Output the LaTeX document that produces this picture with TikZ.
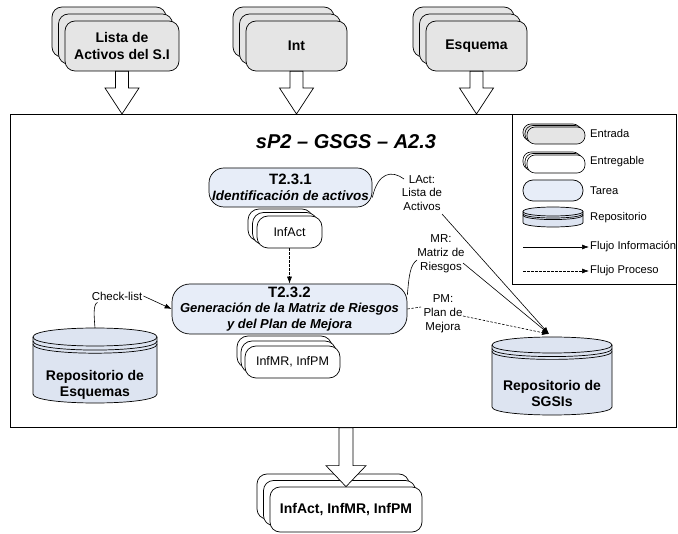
\documentclass[tikz,border=0pt]{standalone}
\usepackage{fontspec}
\setmainfont{Liberation Sans}
\usetikzlibrary{arrows.meta,calc}

\definecolor{inputgray}{RGB}{229,229,229}
\definecolor{taskblue}{RGB}{231,237,248}
\definecolor{repoblue}{RGB}{221,228,241}

\newcommand{\fs}[2]{\fontsize{#1}{#2}\selectfont}

% three stacked rounded boxes; the front one is a named node
% #1 style, #2 name, #3 left, #4 top, #5 right, #6 bottom, #7 x step, #8 y step, #9 text
\newcommand{\stackpile}[9]{%
  \draw[#1] ({#3-2*#7},{#4-2*#8}) rectangle ({#5-2*#7},{#6-2*#8});
  \draw[#1] ({#3-#7},{#4-#8}) rectangle ({#5-#7},{#6-#8});
  \node[#1, minimum width={(#5-#3)*1pt}, minimum height={(#6-#4)*1pt},
        inner sep=0pt, align=center] (#2) at ({(#3+#5)/2},{(#4+#6)/2}) {#9};
}

% repository drum: #1 left, #2 top, #3 right, #4 bottom, #5 ellipse half height, #6 fill
\newcommand{\drumshape}[6]{%
  \filldraw[draw=black, fill=#6, line width=0.7pt]
    (#1,{#2+#5}) -- (#1,{#4-#5})
    .. controls (#1,{#4-#5+4/3*#5}) and (#3,{#4-#5+4/3*#5}) .. (#3,{#4-#5})
    -- (#3,{#2+#5})
    .. controls (#3,{#2+#5-4/3*#5}) and (#1,{#2+#5-4/3*#5}) .. cycle;
  \draw[line width=0.7pt] (#1,{#2+#5})
    .. controls (#1,{#2+#5+4/3*#5}) and (#3,{#2+#5+4/3*#5}) .. (#3,{#2+#5});
  \draw[line width=0.7pt] (#1,{#2+1.45*#5})
    .. controls (#1,{#2+1.45*#5+4/3*#5}) and (#3,{#2+1.45*#5+4/3*#5}) .. (#3,{#2+1.45*#5});
  \draw[line width=0.7pt] (#1,{#2+1.8*#5})
    .. controls (#1,{#2+1.8*#5+4/3*#5}) and (#3,{#2+1.8*#5+4/3*#5}) .. (#3,{#2+1.8*#5});
}

% hollow block arrow: #1 start, #2 tip, #3 shaft half width, #4 head half width, #5 head length
\newcommand{\hollowarrow}[5]{%
  \draw[fill=white, line width=0.7pt] let \p1=(#1), \p2=(#2) in
    ({\x1-#3pt},\y1) -- ({\x1-#3pt},{\y2+#5pt}) -- ({\x1-#4pt},{\y2+#5pt})
    -- (\x1,\y2) -- ({\x1+#4pt},{\y2+#5pt}) -- ({\x1+#3pt},{\y2+#5pt})
    -- ({\x1+#3pt},\y1) -- cycle;
}

\begin{document}
\begin{tikzpicture}[x=1pt,y=-1pt,
  inbox/.style={draw, fill=inputgray, rounded corners=10pt, line width=0.7pt, font=\fs{14}{16.5}\bfseries},
  outbox/.style={draw, fill=white, rounded corners=10pt, line width=0.7pt, font=\fs{14}{16.5}\bfseries},
  deliv/.style={draw, fill=white, rounded corners=11pt, line width=0.7pt, font=\fs{12.5}{15}},
  legin/.style={draw, fill=inputgray, rounded corners=8pt, line width=0.6pt},
  legout/.style={draw, fill=white, rounded corners=8pt, line width=0.6pt},
  task/.style={draw, fill=taskblue, line width=0.7pt, align=center, inner sep=0pt},
  repotext/.style={font=\fs{14}{16.5}\bfseries, align=center, inner sep=0pt},
  lbl/.style={font=\fs{11.5}{13.8}, align=center, inner sep=1pt},
  legtext/.style={font=\fs{11.2}{13.5}, anchor=west, inner sep=1pt},
  flow/.style={-{Latex[length=7pt,width=5pt]}, line width=0.6pt},
  procflow/.style={flow, dash pattern=on 2.5pt off 1.5pt},
  note/.style={line width=0.6pt}
]
\useasboundingbox (0,0) rectangle (678,534);

% activity frame and legend panel
\node[draw, fill=white, line width=0.8pt, minimum width=666pt, minimum height=313pt,
      inner sep=0pt, anchor=north west] (frame) at (10,114) {};
\node[draw, fill=white, line width=0.8pt, minimum width=164pt, minimum height=170pt,
      inner sep=0pt, anchor=north east] (legend) at (frame.north east) {};

% inputs
\stackpile{inbox}{lista}{65}{21}{179}{71}{6.5}{7}{Lista de\\Activos del S.I}
\stackpile{inbox}{int}{246}{21}{347}{71}{6.5}{7}{Int}
\stackpile{inbox}{esq}{426}{21}{527}{71}{6.5}{7}{Esquema}
\hollowarrow{lista.south}{lista.south |- frame.north}{6.5}{17}{26}
\hollowarrow{int.south}{int.south |- frame.north}{6.5}{17}{26}
\hollowarrow{esq.south}{esq.south |- frame.north}{6.5}{17}{26}

% title
\node[font=\fs{20}{24}\bfseries\itshape] (title) at (346,142) {sP2 – GSGS – A2.3};

% tasks
\node[task, rounded corners=15pt, minimum width=163pt, minimum height=39pt,
      font=\fs{13.5}{15.5}\bfseries\itshape] (t231) at (290.5,187.5)
      {{\fs{15}{16}\upshape T2.3.1}\\Identificación de activos};
\node[task, rounded corners=18pt, minimum width=235pt, minimum height=50pt,
      font=\fs{13}{15.5}\bfseries\itshape] (t232) at (289.5,309)
      {{\fs{15}{16}\upshape T2.3.2}\\Generación de la Matriz de Riesgos\\y del Plan de Mejora};

% deliverables
\stackpile{deliv}{infact}{257}{216}{322}{248}{4.5}{3.5}{InfAct}
\stackpile{deliv}{infmr}{245}{346}{340}{378}{4}{5}{InfMR, InfPM}
\draw[procflow] (infact.south) -- (t232.north);

% repositories
\drumshape{33}{328}{157}{403}{9}{repoblue}
\node[repotext] (repoEsq) at (95,385) {Repositorio de\\Esquemas};
\coordinate (esqTop) at (95,328);
\drumshape{492}{337}{612}{415}{8}{repoblue}
\node[repotext] (repoSGSI) at (552,393.5) {Repositorio de\\SGSIs};
\coordinate (sgsiTop) at (549,334);

% check-list from the schema repository
\node[lbl] (chk) at (117,296) {Check-list};
\draw[note] ([xshift=7pt,yshift=-1pt]chk.south west) .. controls (93,304) and (94,316) .. (esqTop);
\draw[flow] (chk.east) -- (t232.west);

% LAct
\node[lbl] (lact) at (422,193) {LAct:\\Lista de\\Activos};
\coordinate (lactIn) at (404,179);
\coordinate (lactOut) at (442,214);
\draw[note] ([yshift=-10pt]t231.east) .. controls (378,172) and (392,170) .. (lactIn);
\draw[flow] (lactOut) -- (sgsiTop);

% MR
\node[lbl] (mr) at (441,253.5) {MR:\\Matriz de\\Riesgos};
\coordinate (mrIn) at (417,260);
\coordinate (mrOut) at (463,263);
\draw[note] ([yshift=14pt]t232.east) .. controls (409,276) and (410,265) .. (mrIn);
\draw[flow] (mrOut) -- (sgsiTop);

% PM
\node[lbl] (pm) at (443,313.5) {PM:\\Plan de\\Mejora};
\coordinate (pmIn) at (421,307);
\coordinate (pmOut) at (463,316);
\draw[note, dash pattern=on 2.5pt off 1.5pt] (t232.east) -- (pmIn);
\draw[procflow] (pmOut) -- (sgsiTop);

% outputs
\stackpile{outbox}{outp}{270}{487}{422}{532}{6.5}{6.5}{InfAct, InfMR, InfPM}
\hollowarrow{outp.north |- frame.south}{outp.north}{7}{20}{21}

% legend
\stackpile{legin}{legInShape}{527}{127}{585}{144}{2}{1.5}{}
\node[legtext] (leg1) at (589,134) {Entrada};
\stackpile{legout}{legOutShape}{527}{155}{585}{173}{2}{1.5}{}
\node[legtext] (leg2) at (589,162) {Entregable};
\node[task, rounded corners=10pt, minimum width=60pt, minimum height=21pt] (legTask) at (553,190.5) {};
\node[legtext] (leg3) at (589,191) {Tarea};
\drumshape{523}{207}{583}{227}{4.5}{repoblue}
\node[legtext] (leg4) at (589,218) {Repositorio};
\coordinate (lgA) at (523,247);
\node[legtext] (leg5) at (589,247) {Flujo Información};
\draw[flow] (lgA) -- (leg5.west);
\coordinate (lgB) at (523,271);
\node[legtext] (leg6) at (589,271) {Flujo Proceso};
\draw[procflow] (lgB) -- (leg6.west);
\end{tikzpicture}
\end{document}
